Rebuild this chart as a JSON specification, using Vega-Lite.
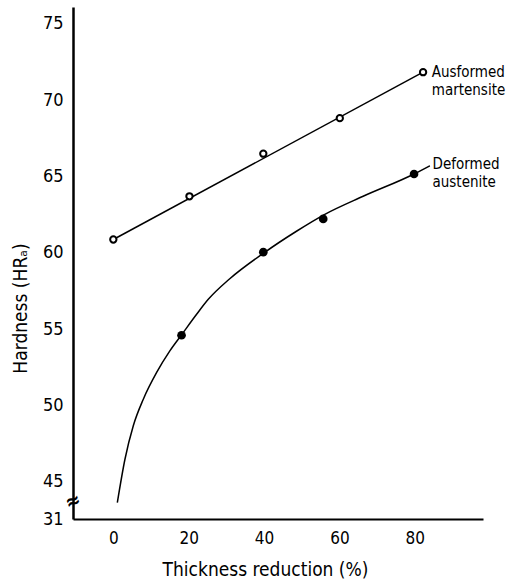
{
  "$schema": "https://vega.github.io/schema/vega-lite/v6.json",
  "autosize": "none",
  "width": 410,
  "height": 512,
  "padding": {"left": 73, "top": 7, "right": 41, "bottom": 62},
  "background": "white",
  "config": {
    "view": {"stroke": null},
    "font": "Liberation Sans Narrow, DejaVu Sans Condensed, Liberation Sans",
    "axis": {"grid": false, "domainColor": "black", "labelColor": "black", "titleColor": "black", "titleFontWeight": "normal"}
  },
  "datasets": {
    "fitA": [
      {"x": 0, "y": 60.87},
      {"x": 82.2, "y": 71.83}
    ],
    "fitD": [
      {"x": 1.06, "y": 43.63},
      {"x": 3.1, "y": 46.49},
      {"x": 5.3, "y": 48.67},
      {"x": 7.96, "y": 50.41},
      {"x": 11.5, "y": 52.16},
      {"x": 15.0, "y": 53.57},
      {"x": 18.1, "y": 54.62},
      {"x": 22.1, "y": 55.97},
      {"x": 25.2, "y": 56.95},
      {"x": 30.9, "y": 58.3},
      {"x": 40.0, "y": 60.0},
      {"x": 48.6, "y": 61.41},
      {"x": 56.0, "y": 62.5},
      {"x": 66.3, "y": 63.7},
      {"x": 79.8, "y": 65.16},
      {"x": 84.0, "y": 65.7}
    ],
    "ausformed": [
      {"x": 0, "y": 60.87},
      {"x": 20.2, "y": 63.7},
      {"x": 39.8, "y": 66.49},
      {"x": 60.1, "y": 68.82},
      {"x": 82.2, "y": 71.83}
    ],
    "deformed": [
      {"x": 18.1, "y": 54.6},
      {"x": 39.8, "y": 60.04},
      {"x": 55.7, "y": 62.22},
      {"x": 79.8, "y": 65.16}
    ],
    "labels": [
      {"x": 84.5, "y": 71.85, "t": "Ausformed"},
      {"x": 84.5, "y": 70.67, "t": "martensite"},
      {"x": 84.7, "y": 65.8, "t": "Deformed"},
      {"x": 84.7, "y": 64.65, "t": "austenite"}
    ],
    "brk": [
      {"x": -10.7, "y": 43.7, "t": "≈"}
    ],
    "xticks": [{"v": 0}, {"v": 20}, {"v": 40}, {"v": 60}, {"v": 80}],
    "yticks": [{"v": 45}, {"v": 50}, {"v": 55}, {"v": 60}, {"v": 65}, {"v": 70}, {"v": 75}]
  },
  "encoding": {
    "x": {
      "field": "x", "type": "quantitative",
      "scale": {"domain": [-10.7, 98.1], "nice": false, "zero": false},
      "axis": {
        "values": [0, 20, 40, 60, 80],
        "title": "Thickness reduction (%)",
        "titleFontSize": 19,
        "titleX": 192,
        "titleY": 50,
        "titleBaseline": "middle",
        "labelFontSize": 17,
        "ticks": false,
        "domainWidth": 2,
        "labelPadding": 11
      }
    },
    "y": {
      "field": "y", "type": "quantitative",
      "scale": {"domain": [42.56, 76.1], "nice": false, "zero": false},
      "axis": {
        "values": [42.56, 45, 50, 55, 60, 65, 70, 75],
        "labelExpr": "datum.value < 44 ? '31' : datum.label",
        "title": "Hardness (HRₐ)",
        "titleFontSize": 19,
        "titleX": -53,
        "titleY": 301,
        "titleBaseline": "middle",
        "labelFontSize": 18,
        "ticks": false,
        "domainWidth": 2.5,
        "labelPadding": 10
      }
    }
  },
  "layer": [
    {
      "data": {"name": "fitA"},
      "mark": {"type": "line", "color": "black", "strokeWidth": 1.5}
    },
    {
      "data": {"name": "fitD"},
      "mark": {"type": "line", "color": "black", "strokeWidth": 1.5, "interpolate": "monotone"}
    },
    {
      "data": {"name": "ausformed"},
      "mark": {"type": "point", "shape": "circle", "filled": false, "fill": "white", "fillOpacity": 1, "stroke": "black", "strokeWidth": 2, "size": 40, "opacity": 1}
    },
    {
      "data": {"name": "deformed"},
      "mark": {"type": "point", "shape": "circle", "filled": true, "color": "black", "size": 75, "opacity": 1}
    },
    {
      "data": {"name": "labels"},
      "mark": {"type": "text", "align": "left", "baseline": "middle", "fontSize": 15, "color": "black"},
      "encoding": {"text": {"field": "t"}}
    },
    {
      "data": {"name": "brk"},
      "mark": {"type": "text", "align": "center", "baseline": "middle", "fontSize": 20, "fontWeight": "bold", "color": "black", "angle": -20},
      "encoding": {"text": {"field": "t"}}
    },
    {
      "data": {"name": "yticks"},
      "mark": {"type": "point", "shape": "M0,0L2,0", "filled": false, "stroke": "black", "strokeWidth": 2, "size": 81, "opacity": 1},
      "encoding": {
        "x": {"datum": -10.7, "type": "quantitative"},
        "y": {"field": "v", "type": "quantitative"}
      }
    },
    {
      "data": {"name": "xticks"},
      "mark": {"type": "point", "shape": "M0,0L0,-2", "filled": false, "stroke": "black", "strokeWidth": 2, "size": 100, "opacity": 1},
      "encoding": {
        "x": {"field": "v", "type": "quantitative"},
        "y": {"datum": 42.56, "type": "quantitative"}
      }
    }
  ]
}
